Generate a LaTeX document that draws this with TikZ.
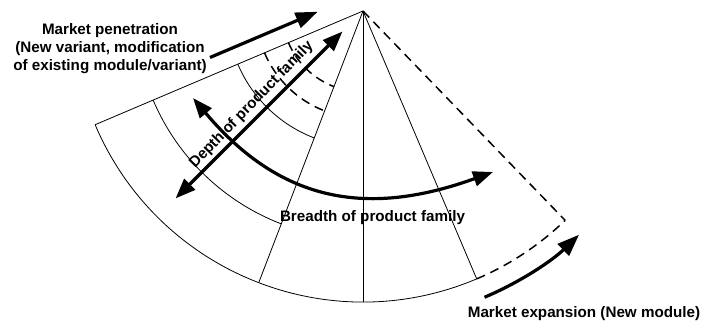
\documentclass[tikz,border=0pt]{standalone}
\usepackage{fontspec}
\setmainfont{Liberation Sans}
\usetikzlibrary{arrows.meta,calc}
\def\fanarc[#1](#2:#3:#4){\draw[#1] (#2:#4) arc (#2:#3:#4);}

\tikzset{
  fattip/.tip={Triangle[length=20pt,width=15pt]},
  longtip/.tip={Triangle[length=22pt,width=16pt]},
  thinline/.style={line width=0.8pt},
  dashline/.style={line width=1.5pt, dash pattern=on 9pt off 6pt},
  bigarrow/.style={line width=3.2pt, -longtip},
  captext/.style={font=\bfseries\fontsize{15.2}{18}\selectfont, inner sep=0pt}
}

\begin{document}
\begin{tikzpicture}[x=1pt, y=1pt]
	%%%%% START %%%%%
	\useasboundingbox (-363,-311) rectangle (339,11);
	\coordinate (apex) at (0,0);

	% fan of the product family
	\foreach \a in {203,249,270,293}
		\draw[thinline] (apex) -- (\a:291);
	\fanarc[thinline](203:293:291);
	\fanarc[thinline](203:249:228);
	\fanarc[thinline](203:249:136);
	\fanarc[dashline](203:249:107);
	\fanarc[dashline](203:249:81);

	% new module
	\draw[dashline] (apex) -- (314:291);
	\fanarc[dashline](293:314:291);

	% market penetration
	\coordinate (pentail) at ($(203:159)+(113:17)$);
	\coordinate (pentip) at ($(203:42)+(113:17)$);
	\draw[bigarrow] (pentail) -- (pentip);
	\node[captext, align=center] (pentext) at (-253,-38)
		{Market penetration\\(New variant, modification\\of existing module/variant)};

	% depth
	\coordinate (depthlow) at (225:265);
	\coordinate (depthhigh) at (225:29);
	\draw[line width=3.2pt, fattip-fattip] (depthlow) -- (depthhigh);
	\node[captext, rotate=46] (depthtext) at ($(225:145)+(135:12.5)$) {Depth of product family};

	% breadth
	\coordinate (breadthleft) at (-170,-87);
	\coordinate (breadthright) at (130,-161);
	\draw[line width=3.2pt, fattip-fattip] (breadthleft) .. controls (-80,-194) and (8,-205) .. (breadthright);
	\node[captext, anchor=base] (breadthtext) at (9.5,-210) {Breadth of product family};

	% market expansion
	\coordinate (exptail) at (293:311);
	\draw[bigarrow] (exptail) arc (293:314:311) coordinate (exptip);
	\node[captext, anchor=base] (exptext) at (221,-306) {Market expansion (New module)};
	%%%%% END %%%%%
\end{tikzpicture}
\end{document}
